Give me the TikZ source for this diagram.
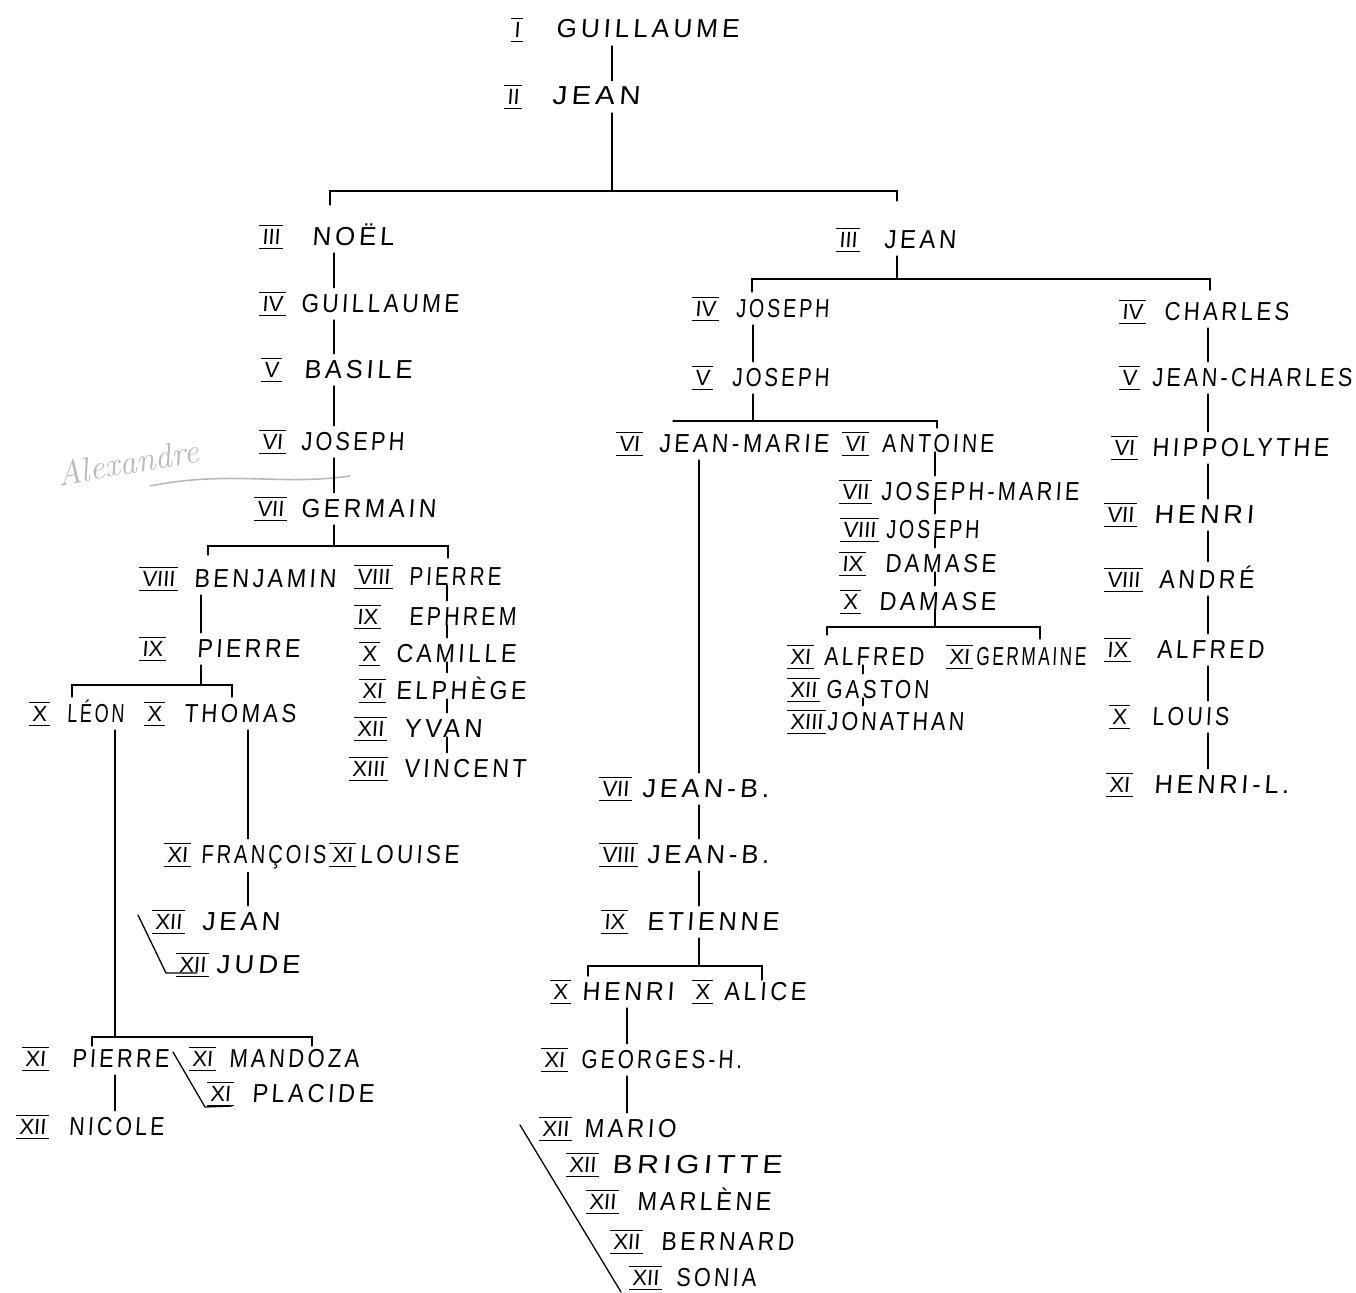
\documentclass[tikz,border=0pt]{standalone}
\usepackage{fontspec}
\usepackage{graphicx}
\usetikzlibrary{calc}
\newfontfamily\namefont{Liberation Sans}[LetterSpace=15,FakeSlant=0.07]
\newfontfamily\numfont{Liberation Sans}[FakeSlant=0.07]
\newcommand\rn[1]{{\numfont\fontsize{22}{22}\selectfont\setbox0\hbox{\kern3pt#1\kern3pt}\raisebox{-4pt}{\vbox{\hrule height1.3pt width\wd0\kern3pt\copy0\kern3.5pt\hrule height1.3pt width\wd0}}}}
\newcommand\pe[4]{\makebox[#2pt][l]{\rn{#1}}\resizebox{#3pt}{\height}{\namefont #4}}
\begin{document}
\begin{tikzpicture}[x=1pt,y=-1pt,
  person/.style={inner sep=0pt,outer sep=4pt,anchor=base west,font=\fontsize{26}{30}\selectfont},
  link/.style={line width=1.3pt,line cap=round},
  alex/.style={text=gray!55,font=\fontsize{34}{34}\selectfont\itshape}]
\useasboundingbox (0,0) rectangle (1356,1292);
% ---------- persons ----------
\node[person] (g1) at (507,38) {\pe{I}{45}{183}{GUILLAUME}};
\node[person] (j2) at (500,105) {\pe{II}{48}{88}{JEAN}};
\node[person] (noel) at (255,245) {\pe{III}{53}{82}{NOËL}};
\node[person] (g4) at (255,312) {\pe{IV}{42}{158}{GUILLAUME}};
\node[person] (bas) at (257,378) {\pe{V}{43}{108}{BASILE}};
\node[person] (jos6) at (255,450) {\pe{VI}{42}{103}{JOSEPH}};
\node[person] (germ) at (250,517) {\pe{VII}{47}{135}{GERMAIN}};
\node[person] (benj) at (135,587) {\pe{VIII}{55}{142}{BENJAMIN}};
\node[person] (pier8) at (350,585) {\pe{VIII}{55}{92}{PIERRE}};
\node[person] (eph) at (350,625) {\pe{IX}{55}{107}{EPHREM}};
\node[person] (cam) at (355,662) {\pe{X}{37}{120}{CAMILLE}};
\node[person] (elp) at (355,699) {\pe{XI}{37}{130}{ELPHÈGE}};
\node[person] (yvan) at (350,737) {\pe{XII}{50}{78}{YVAN}};
\node[person] (vinc) at (345,777) {\pe{XIII}{55}{122}{VINCENT}};
\node[person] (pier9) at (135,657) {\pe{IX}{58}{103}{PIERRE}};
\node[person] (leon) at (25,722) {\pe{X}{38}{57}{LÉON}};
\node[person] (thom) at (140,722) {\pe{X}{40}{112}{THOMAS}};
\node[person] (fran) at (160,863) {\pe{XI}{37}{125}{FRANÇOIS}};
\node[person] (lou) at (325,863) {\pe{XI}{31}{99}{LOUISE}};
\node[person] (jean12) at (148,930) {\pe{XII}{50}{78}{JEAN}};
\node[person] (jude) at (172,973) {\pe{XII}{40}{84}{JUDE}};
\node[person] (pier11) at (18,1067) {\pe{XI}{50}{97}{PIERRE}};
\node[person] (mand) at (185,1067) {\pe{XI}{40}{130}{MANDOZA}};
\node[person] (plac) at (203,1102) {\pe{XI}{45}{122}{PLACIDE}};
\node[person] (nic) at (12,1135) {\pe{XII}{53}{95}{NICOLE}};
\node[person] (jean3) at (832,248) {\pe{III}{48}{72}{JEAN}};
\node[person] (jos4) at (688,317) {\pe{IV}{44}{93}{JOSEPH}};
\node[person] (jos5) at (688,386) {\pe{V}{40}{97}{JOSEPH}};
\node[person] (jm) at (612,452) {\pe{VI}{43}{170}{JEAN-MARIE}};
\node[person] (ant) at (838,452) {\pe{VI}{40}{112}{ANTOINE}};
\node[person] (josm) at (835,500) {\pe{VII}{42}{198}{JOSEPH-MARIE}};
\node[person] (jos8) at (836,538) {\pe{VIII}{46}{93}{JOSEPH}};
\node[person] (dam9) at (835,572) {\pe{IX}{46}{111}{DAMASE}};
\node[person] (dam10) at (836,610) {\pe{X}{39}{117}{DAMASE}};
\node[person] (alf11) at (783,665) {\pe{XI}{37}{100}{ALFRED}};
\node[person] (germn) at (942,665) {\pe{XI}{30}{110}{GERMAINE}};
\node[person] (gast) at (783,698) {\pe{XII}{39}{103}{GASTON}};
\node[person] (jon) at (783,730) {\pe{XIII}{40}{137}{JONATHAN}};
\node[person] (jb7) at (595,797) {\pe{VII}{43}{127}{JEAN-B.}};
\node[person] (jb8) at (595,863) {\pe{VIII}{48}{122}{JEAN-B.}};
\node[person] (eti) at (597,930) {\pe{IX}{46}{132}{ETIENNE}};
\node[person] (henri10) at (546,1000) {\pe{X}{32}{92}{HENRI}};
\node[person] (alice) at (688,1000) {\pe{X}{32}{82}{ALICE}};
\node[person] (geo) at (537,1068) {\pe{XI}{40}{161}{GEORGES-H.}};
\node[person] (mario) at (535,1137) {\pe{XII}{45}{92}{MARIO}};
\node[person] (brig) at (562,1173) {\pe{XII}{46}{170}{BRIGITTE}};
\node[person] (marl) at (582,1210) {\pe{XII}{51}{134}{MARLÈNE}};
\node[person] (bern) at (606,1250) {\pe{XII}{51}{133}{BERNARD}};
\node[person] (sonia) at (625,1286) {\pe{XII}{47}{80}{SONIA}};
\node[person] (charles) at (1115,320) {\pe{IV}{45}{125}{CHARLES}};
\node[person] (jc) at (1115,386) {\pe{V}{33}{200}{JEAN-CHARLES}};
\node[person] (hipp) at (1107,456) {\pe{VI}{41}{177}{HIPPOLYTHE}};
\node[person] (henri7) at (1100,523) {\pe{VII}{50}{100}{HENRI}};
\node[person] (andre) at (1100,588) {\pe{VIII}{55}{95}{ANDRÉ}};
\node[person] (alf9) at (1100,658) {\pe{IX}{53}{107}{ALFRED}};
\node[person] (louis) at (1105,725) {\pe{X}{43}{77}{LOUIS}};
\node[person] (hl) at (1102,793) {\pe{XI}{48}{135}{HENRI-L.}};
% annotation
\node[alex,rotate=10] (alex) at (128,462) {Alexandre};
\draw[gray!55,line width=1.6pt] (150,486) .. controls (230,470) and (280,486) .. (350,476);
% ---------- column coordinates ----------
\coordinate (cA) at (612,0);
\coordinate (cN) at (334,0);
\coordinate (cB) at (201,0);
\coordinate (cP) at (447,0);
\coordinate (cL) at (115,0);
\coordinate (cT) at (248,0);
\coordinate (cJ3) at (897,0);
\coordinate (cJ) at (753,0);
\coordinate (cM) at (699,0);
\coordinate (cH) at (627,0);
\coordinate (cAn) at (935,0);
\coordinate (cG) at (863,0);
\coordinate (cC) at (1208,0);
% ---------- bars ----------
\coordinate (b1L) at (330,191); \coordinate (b1R) at (897,191); \coordinate (b1M) at (612,191);
\coordinate (b2L) at (208,546); \coordinate (b2R) at (448,546); \coordinate (b2M) at (334,546);
\coordinate (b3L) at (72,685);  \coordinate (b3R) at (232,685); \coordinate (b3M) at (201,685);
\coordinate (b4L) at (92,1037); \coordinate (b4R) at (312,1037); \coordinate (b4M) at (115,1037);
\coordinate (b5L) at (752,279); \coordinate (b5R) at (1210,279); \coordinate (b5M) at (897,279);
\coordinate (b6L) at (673,421); \coordinate (b6R) at (937,421); \coordinate (b6M) at (753,421);
\coordinate (b7L) at (588,966); \coordinate (b7R) at (762,966); \coordinate (b7M) at (699,966);
\coordinate (b8L) at (827,627); \coordinate (b8R) at (1040,627); \coordinate (b8M) at (935,627);
\draw[link] ($(b1L)+(0,14)$) -- (b1L) -- (b1R) -- ($(b1R)+(0,10)$);
\draw[link] ($(b2L)+(0,9)$) -- (b2L) -- (b2R) -- ($(b2R)+(0,12)$);
\draw[link] ($(b3L)+(0,12)$) -- (b3L) -- (b3R) -- ($(b3R)+(0,12)$);
\draw[link] ($(b4L)+(0,9)$) -- (b4L) -- (b4R) -- ($(b4R)+(0,9)$);
\draw[link] ($(b5L)+(0,13)$) -- (b5L) -- (b5R) -- ($(b5R)+(0,11)$);
\draw[link] (b6L) -- (b6R) -- ($(b6R)+(0,7)$);
\draw[link] ($(b7L)+(0,10)$) -- (b7L) -- (b7R) -- ($(b7R)+(0,14)$);
\draw[link] ($(b8L)+(0,8)$) -- (b8L) -- (b8R) -- ($(b8R)+(0,12)$);
% ---------- vertical links ----------
\draw[link] (g1.south -| cA) -- (j2.north -| cA);
\draw[link] (j2.south -| cA) -- (b1M);
\foreach \a/\b in {noel/g4,g4/bas,bas/jos6,jos6/germ}
  \draw[link] (\a.south -| cN) -- (\b.north -| cN);
\draw[link] (germ.south -| cN) -- (b2M);
\draw[link] (benj.south -| cB) -- (pier9.north -| cB);
\draw[link] (pier9.south -| cB) -- (b3M);
\foreach \a/\b in {pier8/eph,eph/cam,cam/elp,elp/yvan,yvan/vinc}
  \draw[link] (\a.base -| cP) -- (\b.north -| cP);
\draw[link] (leon.south -| cL) -- (b4M);
\draw[link] (pier11.south -| cL) -- (nic.north -| cL);
\draw[link] (thom.south -| cT) -- (fran.north -| cT);
\draw[link] (fran.south -| cT) -- (jean12.north -| cT);
\draw[link] (jean3.south -| cJ3) -- (b5M);
\draw[link] (jos4.south -| cJ) -- (jos5.north -| cJ);
\draw[link] (jos5.south -| cJ) -- (b6M);
\foreach \a/\b in {jm/jb7,jb7/jb8,jb8/eti}
  \draw[link] (\a.south -| cM) -- (\b.north -| cM);
\draw[link] (eti.south -| cM) -- (b7M);
\draw[link] (henri10.south -| cH) -- (geo.north -| cH);
\draw[link] (geo.south -| cH) -- (mario.north -| cH);
\foreach \a/\b in {ant/josm,josm/jos8,jos8/dam9,dam9/dam10}
  \draw[link] (\a.base -| cAn) -- (\b.north -| cAn);
\draw[link] (dam10.base -| cAn) -- (b8M);
\foreach \a/\b in {alf11/gast,gast/jon}
  \draw[link] (\a.base -| cG) -- (\b.north -| cG);
\foreach \a/\b in {charles/jc,jc/hipp,hipp/henri7,henri7/andre,andre/alf9,alf9/louis,louis/hl}
  \draw[link] (\a.south -| cC) -- (\b.north -| cC);
% ---------- slanted brackets ----------
\coordinate (s1a) at (138,915); \coordinate (s1b) at (166,973); \coordinate (s1c) at (197,973);
\draw[link] (s1a) -- (s1b) -- (s1c);
\coordinate (s2a) at (173,1052); \coordinate (s2b) at (205,1107); \coordinate (s2c) at (232,1106);
\draw[link] (s2a) -- (s2b) -- (s2c);
\coordinate (s3a) at (520,1125); \coordinate (s3b) at (621,1292);
\draw[link] (s3a) -- (s3b);
\end{tikzpicture}
\end{document}
